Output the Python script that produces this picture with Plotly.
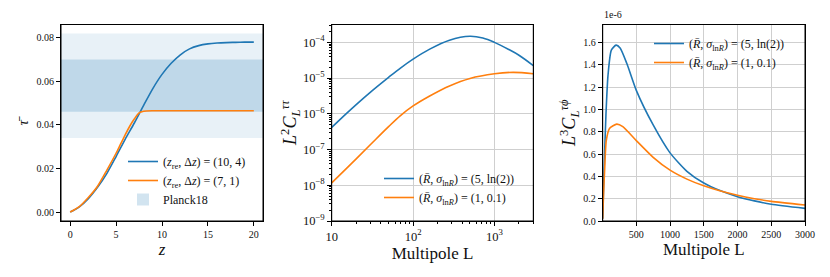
import plotly.graph_objects as go

# ---------------- data ----------------
# Panel 1: optical depth vs redshift
z_blue = [0, 1, 2, 3, 4, 5, 6, 7, 8, 9, 10, 11, 12, 13, 14, 15, 16, 17, 18, 19, 20]
tau_blue = [0.0, 0.0024, 0.0063, 0.0115, 0.0178, 0.0255, 0.0335, 0.041, 0.049, 0.0567,
            0.0632, 0.0683, 0.0722, 0.0749, 0.0764, 0.0772, 0.0776, 0.0778, 0.0779, 0.078, 0.078]
z_orange = [0, 1, 2, 3, 4, 5, 5.5, 6, 6.5, 7, 7.5, 8, 9, 10, 12, 14, 16, 18, 20]
tau_orange = [0.0, 0.0025, 0.0068, 0.012, 0.0193, 0.027, 0.0313, 0.0355, 0.0395, 0.0428,
              0.0455, 0.0463, 0.0465, 0.0465, 0.0465, 0.0465, 0.0465, 0.0465, 0.0465]
planck_1sigma = [0.046, 0.070]
planck_2sigma = [0.034, 0.082]

# Panel 2: L^2 C_L^{tau tau}
L_tt_blue = [10, 15, 20, 30, 50, 70, 100, 160, 280, 500, 720, 1000, 1500, 2000, 3000]
cl_tt_blue = [4.17e-7, 1.0e-6, 1.82e-6, 4.07e-6, 1.05e-5, 1.91e-5, 3.39e-5, 6.46e-5,
              1.15e-4, 1.48e-4, 1.32e-4, 1.0e-4, 6.31e-5, 4.37e-5, 2.24e-5]
L_tt_orange = [10, 15, 20, 30, 50, 70, 100, 160, 280, 500, 1000, 1700, 3000]
cl_tt_orange = [1.17e-8, 2.88e-8, 5.50e-8, 1.38e-7, 4.37e-7, 8.91e-7, 1.66e-6, 3.16e-6,
                6.03e-6, 9.77e-6, 1.32e-5, 1.45e-5, 1.32e-5]

# Panel 3: L^3 C_L^{tau phi}  (in units of 1e-6)
L_tp_blue = [2, 15, 30, 50, 80, 130, 200, 260, 360, 500, 750, 1000, 1250, 1500, 1750,
             2000, 2250, 2500, 3000]
cl_tp_blue = [0.02, 0.3, 0.6, 0.95, 1.3, 1.53, 1.575, 1.55, 1.41, 1.17, 0.86, 0.61, 0.445,
              0.34, 0.27, 0.218, 0.18, 0.15, 0.113]
L_tp_orange = [2, 15, 31, 55, 105, 210, 300, 500, 750, 1000, 1250, 1500, 1750, 2000,
               2250, 2500, 3000]
cl_tp_orange = [0.02, 0.25, 0.46, 0.72, 0.83, 0.868, 0.845, 0.72, 0.57, 0.455, 0.375,
                0.315, 0.268, 0.23, 0.2, 0.176, 0.143]

lab_z1 = "(<i>z</i><sub>re</sub>, Δ<i>z</i>) = (10, 4)"
lab_z2 = "(<i>z</i><sub>re</sub>, Δ<i>z</i>) = (7, 1)"
lab_r1 = "(<i>R̄</i>, <i>σ</i><sub>ln<i>R</i></sub>) = (5, ln(2))"
lab_r2 = "(<i>R̄</i>, <i>σ</i><sub>ln<i>R</i></sub>) = (1, 0.1)"

BLUE = "#1f77b4"
ORANGE = "#ff7f0e"
FONT = "Liberation Serif, Times New Roman, serif"
GRID = "#cfcfcf"

fig = go.Figure()

# Panel 1
fig.add_trace(go.Scatter(x=z_blue, y=tau_blue, mode="lines", name=lab_z1,
                         line=dict(color=BLUE, width=1.6, shape="spline", smoothing=0.8),
                         xaxis="x", yaxis="y", legend="legend"))
fig.add_trace(go.Scatter(x=z_orange, y=tau_orange, mode="lines", name=lab_z2,
                         line=dict(color=ORANGE, width=1.6, shape="spline", smoothing=0.6),
                         xaxis="x", yaxis="y", legend="legend"))

# Panel 2
fig.add_trace(go.Scatter(x=L_tt_blue, y=cl_tt_blue, mode="lines", name=lab_r1,
                         line=dict(color=BLUE, width=1.6, shape="spline", smoothing=1.0),
                         xaxis="x2", yaxis="y2", legend="legend2"))
fig.add_trace(go.Scatter(x=L_tt_orange, y=cl_tt_orange, mode="lines", name=lab_r2,
                         line=dict(color=ORANGE, width=1.6, shape="spline", smoothing=1.0),
                         xaxis="x2", yaxis="y2", legend="legend2"))

# Panel 3
fig.add_trace(go.Scatter(x=L_tp_blue, y=cl_tp_blue, mode="lines", name=lab_r1,
                         line=dict(color=BLUE, width=1.6, shape="spline", smoothing=0.6),
                         xaxis="x3", yaxis="y3", legend="legend3"))
fig.add_trace(go.Scatter(x=L_tp_orange, y=cl_tp_orange, mode="lines", name=lab_r2,
                         line=dict(color=ORANGE, width=1.6, shape="spline", smoothing=0.6),
                         xaxis="x3", yaxis="y3", legend="legend3"))

# Planck bands (full axis width)
fig.add_shape(type="rect", xref="x domain", yref="y", x0=0, x1=1,
              y0=planck_2sigma[0], y1=planck_2sigma[1],
              fillcolor="rgba(31,119,180,0.1)", line=dict(width=0), layer="below")
fig.add_shape(type="rect", xref="x domain", yref="y", x0=0, x1=1,
              y0=planck_1sigma[0], y1=planck_1sigma[1],
              fillcolor="rgba(31,119,180,0.2)", line=dict(width=0), layer="below",
              showlegend=True, name="Planck18", legend="legend")

# Axes frames (spines) for each panel
for xr, yr in [("x", "y"), ("x2", "y2"), ("x3", "y3")]:
    fig.add_shape(type="rect", xref=f"{xr} domain", yref=f"{yr} domain",
                  x0=0, x1=1, y0=0, y1=1, line=dict(color="black", width=1),
                  fillcolor="rgba(0,0,0,0)", layer="above")

W, H = 830, 277
ydom = [1 - 221 / H, 1 - 24.5 / H]

common = dict(showline=True, linecolor="black", linewidth=1, mirror=True,
              ticks="outside", ticklen=4, tickcolor="black", tickwidth=1,
              tickfont=dict(family=FONT, size=10, color="#111"), zeroline=False,
              automargin=False)
minor_log = dict(ticks="outside", ticklen=2, tickcolor="black", tickwidth=0.8,
                 showgrid=False, dtick="D1")

fig.update_layout(
    width=W, height=H,
    margin=dict(l=0, r=0, t=0, b=0),
    paper_bgcolor="white", plot_bgcolor="white",
    font=dict(family=FONT, color="#111"),
    xaxis=dict(domain=[61 / W, 263 / W], range=[-1, 21], tickvals=[0, 5, 10, 15, 20],
               showgrid=False, anchor="y",
               title=dict(text="<i>z</i>", font=dict(size=17, family=FONT), standoff=4),
               **common),
    yaxis=dict(domain=ydom, range=[-0.0041, 0.0861], dtick=0.02, tickformat=".2f",
               showgrid=False, anchor="x",
               title=dict(text="<i>τ̄</i>", font=dict(size=15, family=FONT), standoff=4),
               **common),
    xaxis2=dict(domain=[331.7 / W, 533.3 / W], type="log", range=[1, 3.4771], dtick=1,
                exponentformat="power", showgrid=True, gridcolor=GRID, gridwidth=1,
                minor=minor_log, anchor="y2",
                title=dict(text="Multipole L", font=dict(size=17, family=FONT), standoff=4),
                **common),
    yaxis2=dict(domain=ydom, type="log", range=[-9, -3.5], dtick=1,
                exponentformat="power", showgrid=True, gridcolor=GRID, gridwidth=1,
                minor=minor_log, anchor="x2",
                title=dict(text="<i>L</i><sup>2</sup><i>C</i><sub><i>L</i></sub><sup><i>ττ</i></sup>",
                           font=dict(size=18, family=FONT), standoff=0),
                **common),
    xaxis3=dict(domain=[602.7 / W, 805 / W], range=[2, 3000], tick0=0, dtick=500,
                showgrid=True, gridcolor=GRID, gridwidth=1, anchor="y3",
                title=dict(text="Multipole L", font=dict(size=17, family=FONT), standoff=4),
                **common),
    yaxis3=dict(domain=ydom, range=[0, 1.76], dtick=0.2, tickformat=".1f",
                showgrid=True, gridcolor=GRID, gridwidth=1, anchor="x3",
                title=dict(text="<i>L</i><sup>3</sup><i>C</i><sub><i>L</i></sub><sup><i>τϕ</i></sup>",
                           font=dict(size=18, family=FONT), standoff=2),
                **common),
    legend=dict(x=123 / W, y=1 - 147 / H, xanchor="left", yanchor="top",
                bgcolor="rgba(0,0,0,0)", font=dict(size=12, family=FONT), itemwidth=30,
                tracegroupgap=0),
    legend2=dict(x=379 / W, y=1 - 164 / H, xanchor="left", yanchor="top",
                 bgcolor="rgba(0,0,0,0)", font=dict(size=12, family=FONT), itemwidth=30),
    legend3=dict(x=649 / W, y=1 - 29 / H, xanchor="left", yanchor="top",
                 bgcolor="rgba(0,0,0,0)", font=dict(size=12, family=FONT), itemwidth=30),
    annotations=[dict(text="1e-6", xref="paper", yref="paper", x=602 / W, y=1 - 22 / H,
                      xanchor="left", yanchor="bottom", showarrow=False,
                      font=dict(size=10, family=FONT, color="#111"))],
)

post = """
document.body.style.margin='0px';
var gd = document.getElementsByClassName('plotly-graph-div')[0];
if (gd) { Plotly.relayout(gd, {'xaxis.ticklen': 4}); }
"""
fig.write_html("out.html", config={"displayModeBar": False}, post_script=post)
